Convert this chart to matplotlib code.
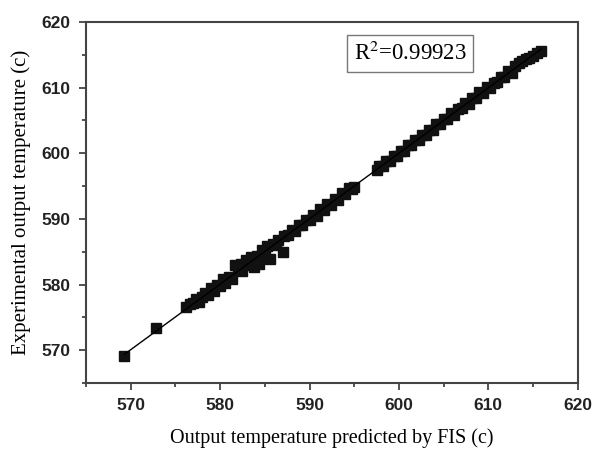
import numpy as np
import matplotlib
matplotlib.use("Agg")
import matplotlib.pyplot as plt
from matplotlib import font_manager
from matplotlib.ticker import MultipleLocator

# FIS predicted vs measured output temperature
fis_pred = [569.3, 572.8, 576.2, 576.6, 577.0, 577.3, 577.6, 578.0, 578.3, 578.7,
            579.0, 579.3, 579.6, 580.0, 580.3, 580.6, 581.0, 581.3, 581.7, 582.0,
            582.3, 582.5, 582.9, 583.2, 583.5, 583.8, 584.1, 584.4, 584.7, 585.0,
            585.3, 585.6, 585.9, 586.2, 586.5, 587.0, 587.2, 587.6, 588.0, 588.4,
            588.8, 589.2, 589.6, 590.0, 590.4, 590.8, 591.2, 591.6, 592.0, 592.4,
            592.8, 593.2, 593.6, 594.0, 594.4, 594.8, 595.0, 597.5, 597.8, 598.2,
            598.6, 599.0, 599.4, 599.8, 600.2, 600.6, 601.0, 601.4, 601.8, 602.2,
            602.6, 603.0, 603.4, 603.8, 604.2, 604.6, 605.0, 605.4, 605.8, 606.2,
            606.6, 607.0, 607.4, 607.8, 608.2, 608.6, 609.0, 609.4, 609.8, 610.2,
            610.6, 611.0, 611.4, 611.8, 612.2, 612.6, 613.0, 613.4, 613.8, 614.2,
            614.6, 615.0, 615.4, 615.9]
measured = [569.1, 573.4, 576.6, 577.0, 577.2, 577.8, 577.4, 578.1, 578.7, 578.4,
            579.4, 579.0, 580.0, 579.8, 580.8, 580.3, 581.2, 580.9, 582.9, 582.3,
            583.1, 582.0, 583.7, 583.0, 584.2, 582.6, 584.3, 583.2, 585.3, 584.6,
            585.8, 583.9, 586.2, 586.0, 586.8, 585.0, 587.4, 587.5, 588.3, 588.2,
            589.0, 589.1, 589.8, 589.9, 590.6, 590.5, 591.5, 591.3, 592.3, 592.1,
            593.1, 592.9, 594.0, 593.8, 594.7, 594.6, 594.9, 597.4, 598.0, 598.0,
            598.8, 598.9, 599.6, 599.6, 600.4, 600.4, 601.2, 601.2, 602.0, 602.1,
            602.8, 602.8, 603.6, 603.6, 604.4, 604.4, 605.2, 605.3, 606.1, 605.9,
            606.8, 606.9, 607.6, 607.5, 608.4, 608.4, 609.4, 609.2, 610.1, 609.9,
            610.7, 610.8, 611.7, 611.6, 612.5, 612.3, 613.3, 613.8, 614.0, 614.3,
            614.5, 614.8, 615.3, 615.6]
r2_text = "R$^{2}$=0.99923"

plt.rcParams['mathtext.fontset'] = 'stix'

# bold Arial-like face for the tick numbers (skip the Narrow variant)
tick_font = font_manager.FontProperties(family='DejaVu Sans', weight='bold', size=12.5)
for f in font_manager.fontManager.ttflist:
    if f.name == 'Liberation Sans' and f.weight in (700, 'bold') \
            and 'Narrow' not in f.fname and 'Italic' not in f.fname:
        tick_font = font_manager.FontProperties(fname=f.fname, size=12.5)
        break

fig = plt.figure(figsize=(5.95, 4.5), dpi=100)
ax = fig.add_axes([0.1445, 0.149, 0.8265, 0.802])

x = np.array(fis_pred)
y = np.array(measured)
slope, intercept = np.polyfit(x, y, 1)
xs = np.array([x.min(), x.max()])

ax.plot(x, y, linestyle='none', marker='s', markersize=6.8, color='#111111')
ax.plot(xs, slope * xs + intercept, color='black', linewidth=1)

ax.set_xlim(565, 620)
ax.set_ylim(565, 620)
ax.xaxis.set_minor_locator(MultipleLocator(5))
ax.yaxis.set_minor_locator(MultipleLocator(5))
ax.set_xticks([570, 580, 590, 600, 610, 620])
ax.set_yticks([570, 580, 590, 600, 610, 620])

for s in ax.spines.values():
    s.set_color('#444444')
    s.set_linewidth(1.5)
ax.tick_params(which='both', direction='out', top=False, right=False,
               color='#444444', width=1.3)
ax.tick_params(which='major', length=5, pad=6)
ax.tick_params(which='minor', length=3)
for lab in ax.get_xticklabels() + ax.get_yticklabels():
    lab.set_fontproperties(tick_font)
    lab.set_color('#222222')

ax.set_xlabel('Output temperature predicted by FIS (c)', family='Liberation Serif',
              fontsize=14.5, labelpad=11)
ax.set_ylabel('Experimental output temperature (c)', family='Liberation Serif',
              fontsize=15, labelpad=8)

ax.text(0.659, 0.914, r2_text, transform=ax.transAxes, ha='center', va='center',
        family='Liberation Serif', fontsize=16.5,
        bbox=dict(boxstyle='square,pad=0.3', facecolor='white', edgecolor='#777777',
                  linewidth=1))

fig.savefig('out.png', dpi=100, facecolor='white')
